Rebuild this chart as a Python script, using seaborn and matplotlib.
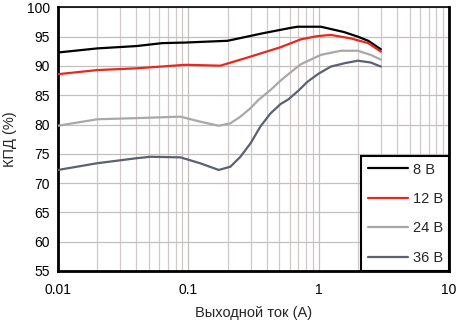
import numpy as np
import pandas as pd
import matplotlib
matplotlib.use("Agg")
import matplotlib.pyplot as plt
import matplotlib.ticker as mticker
import seaborn as sns

# ---- data ----
x_8 = [0.01, 0.02, 0.04, 0.063, 0.095, 0.2, 0.376, 0.608, 0.69, 1.04, 1.56, 2.0, 2.4, 3.0]
y_8 = [92.3, 93.0, 93.4, 93.9, 94.0, 94.3, 95.6, 96.5, 96.7, 96.7, 95.8, 95.0, 94.3, 92.85]

x_12 = [0.01, 0.02, 0.04, 0.095, 0.176, 0.3, 0.51, 0.73, 0.98, 1.24, 1.77, 2.4, 3.0]
y_12 = [88.6, 89.3, 89.6, 90.2, 90.05, 91.6, 93.2, 94.55, 95.1, 95.3, 94.7, 93.9, 92.45]

x_24 = [0.01, 0.02, 0.04, 0.087, 0.123, 0.171, 0.21, 0.251, 0.30, 0.345, 0.427, 0.51,
        0.608, 0.73, 1.04, 1.48, 2.0, 2.5, 3.0]
y_24 = [79.8, 80.9, 81.1, 81.35, 80.5, 79.8, 80.2, 81.35, 82.8, 84.2, 85.9, 87.5,
        88.9, 90.3, 91.9, 92.6, 92.6, 91.9, 91.1]

x_36 = [0.01, 0.02, 0.04, 0.051, 0.087, 0.123, 0.171, 0.21, 0.251, 0.30, 0.358, 0.427,
        0.51, 0.586, 0.70, 0.82, 1.0, 1.24, 1.6, 2.0, 2.5, 3.0]
y_36 = [72.25, 73.4, 74.25, 74.5, 74.4, 73.4, 72.25, 72.8, 74.5, 76.8, 79.7, 81.9,
        83.5, 84.3, 85.8, 87.3, 88.7, 89.9, 90.5, 90.9, 90.6, 89.9]

series_labels = ["8 В", "12 В", "24 В", "36 В"]
x_ticks = [0.01, 0.1, 1, 10]
x_tick_labels = ["0.01", "0.1", "1", "10"]
y_ticks = list(range(55, 101, 5))

frames = []
for lab, xs, ys in zip(series_labels, [x_8, x_12, x_24, x_36], [y_8, y_12, y_24, y_36]):
    frames.append(pd.DataFrame({"x": xs, "y": ys, "s": lab}))
df = pd.concat(frames, ignore_index=True)

sns.set_style("white")
plt.rcParams["font.family"] = ["Liberation Sans", "DejaVu Sans"]

fig = plt.figure(figsize=(4.67, 3.22), dpi=100)
ax = fig.add_axes([58 / 467, 51 / 322, 391 / 467, 263.6 / 322])

palette = {"8 В": "#000000", "12 В": "#e8281c", "24 В": "#a8a8a8", "36 В": "#5b6170"}
sns.lineplot(data=df, x="x", y="y", hue="s", palette=palette, ax=ax,
             linewidth=1.6, legend=False, sort=False, zorder=3,
             solid_joinstyle="round", solid_capstyle="round")

ax.set_xscale("log")
ax.set_xlim(0.01, 10)
ax.set_ylim(55, 100)
ax.set_xticks(x_ticks)
ax.set_xticklabels(x_tick_labels)
ax.xaxis.set_minor_locator(mticker.LogLocator(base=10, subs=np.arange(2, 10)))
ax.xaxis.set_minor_formatter(mticker.NullFormatter())
ax.set_yticks(y_ticks)
ax.grid(True, which="major", color="#c4c0c0", linewidth=0.9, zorder=0)
ax.grid(True, which="minor", axis="x", color="#d2c8c8", linewidth=0.9, zorder=0)
ax.set_axisbelow(True)
ax.tick_params(axis="both", which="both", length=0, labelsize=10, colors="black")
ax.tick_params(axis="x", pad=9)
ax.tick_params(axis="y", pad=6)

for side in ["top", "bottom", "left", "right"]:
    ax.spines[side].set_visible(True)
    ax.spines[side].set_color("black")
ax.spines["left"].set_linewidth(2.0)
ax.spines["bottom"].set_linewidth(2.0)
ax.spines["right"].set_linewidth(2.0)
ax.spines["top"].set_linewidth(1.2)

ax.set_xlabel("Выходной ток (A)", fontsize=10.5, labelpad=6)
ax.set_ylabel("КПД (%)", fontsize=10.5, labelpad=7)

handles = [plt.Line2D([], [], color=palette[l], linewidth=1.6) for l in series_labels]
leg = ax.legend(handles, series_labels, loc="lower right", bbox_to_anchor=(1.0, 0.0),
                borderaxespad=0, fontsize=10.5, frameon=True, fancybox=False,
                handlelength=2.8, handletextpad=0.3, labelspacing=1.06,
                borderpad=0.42, framealpha=1)
leg.get_frame().set_edgecolor("black")
leg.get_frame().set_linewidth(1.5)
leg.set_zorder(5)

fig.savefig("out.png", dpi=100)
